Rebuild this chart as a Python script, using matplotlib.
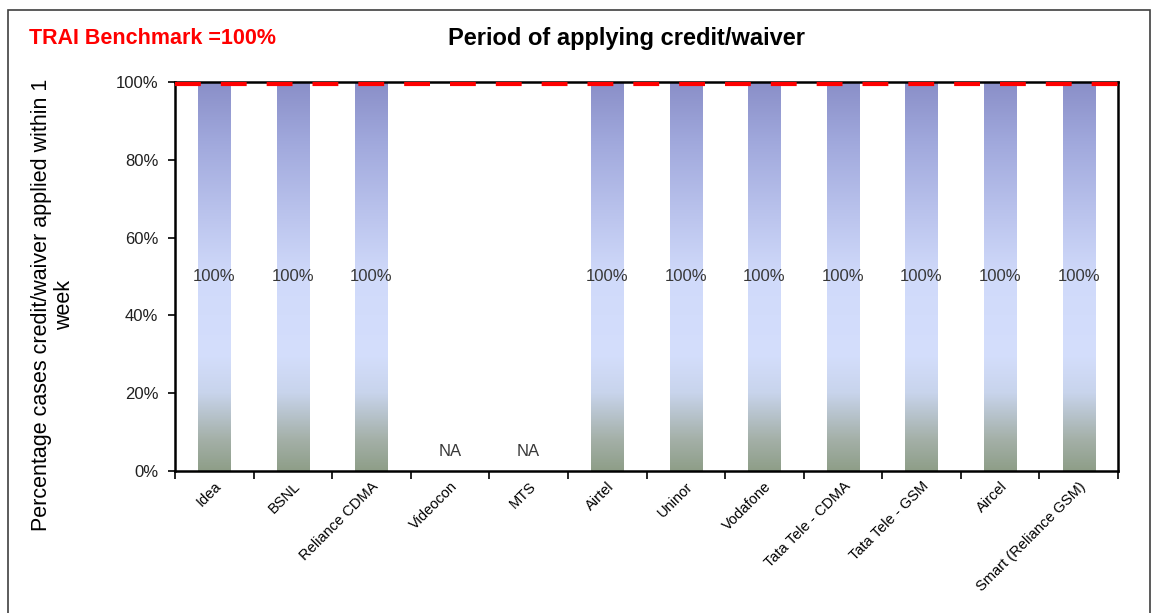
import numpy as np
import matplotlib
matplotlib.use("Agg")
import matplotlib.pyplot as plt
from matplotlib.colors import LinearSegmentedColormap
from matplotlib.patches import Rectangle

plt.rcParams['font.family'] = ['Liberation Sans', 'DejaVu Sans']

operators = ["Idea", "BSNL", "Reliance CDMA", "Videocon", "MTS", "Airtel",
             "Uninor", "Vodafone", "Tata Tele - CDMA", "Tata Tele - GSM",
             "Aircel", "Smart (Reliance GSM)"]
values = [100, 100, 100, np.nan, np.nan, 100, 100, 100, 100, 100, 100, 100]
benchmark = 100

fig = plt.figure(figsize=(11.54, 6.13), dpi=100)
ax = fig.add_axes([175/1154, 1 - 471/613, (1118 - 175)/1154, (471 - 82)/613])

# outer chart frame
fig.patches.append(Rectangle((8/1154, -0.05), (1150 - 8)/1154, 1.05 - 10/613,
                             transform=fig.transFigure, fill=False,
                             edgecolor="#404040", linewidth=1.2))

x = np.arange(len(operators))
heights = [0 if np.isnan(v) else v for v in values]
bars = ax.bar(x, heights, width=0.41, color="none", edgecolor="none")

cmap = LinearSegmentedColormap.from_list("barfill", [
    (0.0, "#8e9e88"), (0.08, "#a4b0a8"), (0.2, "#c8d4ec"), (0.3, "#d4defc"),
    (0.5, "#d0dafa"), (0.65, "#bcc5ee"), (0.85, "#a0a8dc"), (1.0, "#8a8fc8")])
grad = np.linspace(0, 1, 256).reshape(-1, 1)
for b in bars:
    if b.get_height() <= 0:
        continue
    x0, y0 = b.get_x(), b.get_y()
    ax.imshow(grad, cmap=cmap, origin="lower", aspect="auto",
              extent=(x0, x0 + b.get_width(), y0, y0 + b.get_height()), zorder=2)

for xi, v in zip(x, values):
    if np.isnan(v):
        ax.text(xi, 5, "NA", ha="center", va="center", fontsize=12, color="#383838", zorder=4)
    else:
        ax.text(xi, 50, f"{v:.0f}%", ha="center", va="center", fontsize=12, color="#383838", zorder=4)

ax.axhline(benchmark - 0.4, color="#ff0000", lw=3, ls=(0, (6.2, 4.8)), zorder=5, clip_on=False)

ax.set_xlim(-0.5, len(operators) - 0.5)
ax.set_ylim(0, 100)
ax.set_yticks(np.arange(0, 101, 20))
ax.set_yticklabels([f"{t}%" for t in range(0, 101, 20)], fontsize=12, color="#202020")
ax.set_xticks(x)
ax.set_xticklabels(operators, rotation=45, ha="right", rotation_mode="anchor", fontsize=10.5)
ax.set_xticks(np.arange(-0.5, len(operators)), minor=True)
ax.tick_params(axis="x", which="major", length=0, pad=6)
ax.tick_params(axis="x", which="minor", length=6, width=1.2, direction="out")
ax.tick_params(axis="y", length=5, width=1.2, direction="out", pad=7)
for s in ax.spines.values():
    s.set_linewidth(1.8)
    s.set_color("black")

fig.text(53/1154, 1 - 305/613, "Percentage cases credit/waiver applied within 1\nweek",
         rotation=90, ha="center", va="center", fontsize=15.5, linespacing=1.1)
fig.text(627/1154, 1 - 38/613, "Period of applying credit/waiver", ha="center", va="center",
         fontsize=17, fontweight="bold")
fig.text(29/1154, 1 - 38/613, "TRAI Benchmark =100%", ha="left", va="center",
         fontsize=15.5, fontweight="bold", color="#ff0000")

fig.savefig("out.png", dpi=100)
